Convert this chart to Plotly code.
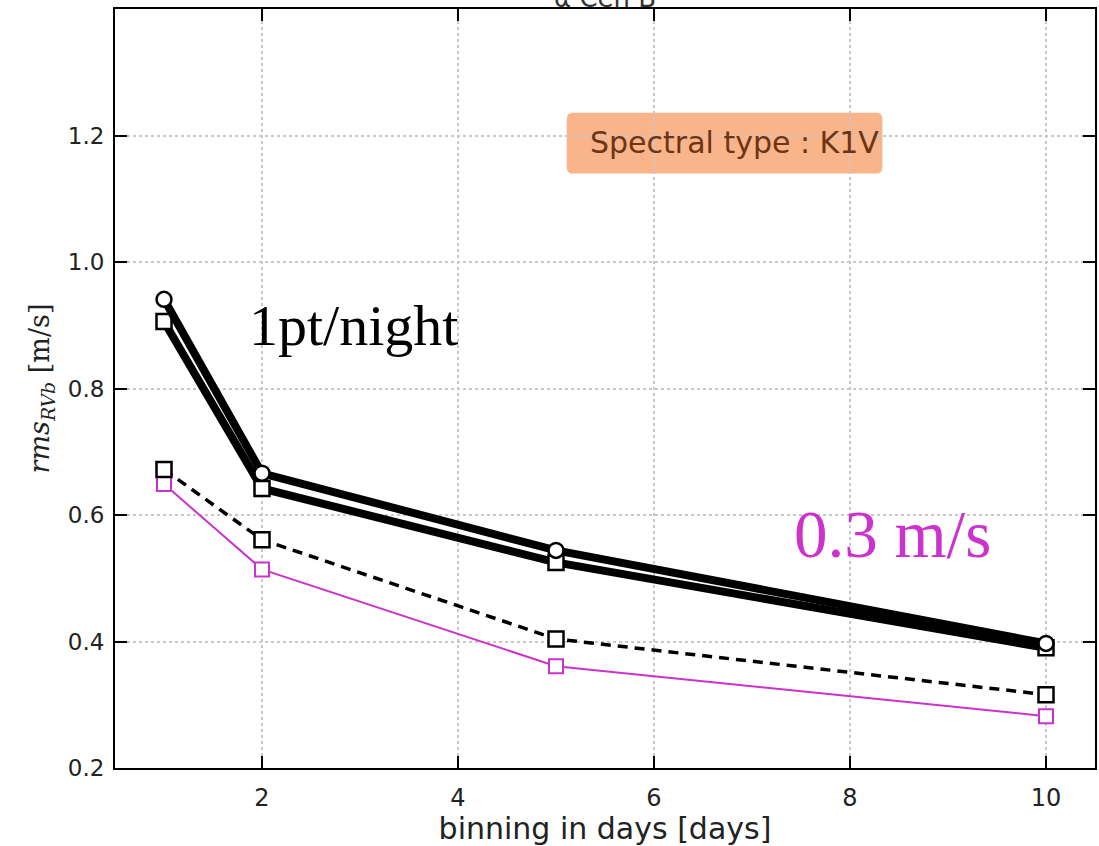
import plotly.graph_objects as go

bins = [1, 2, 5, 10]
rms_circle = [0.941, 0.666, 0.544, 0.397]
rms_square = [0.906, 0.642, 0.525, 0.390]
rms_dashed = [0.672, 0.561, 0.404, 0.316]
rms_magenta = [0.649, 0.514, 0.361, 0.282]

x_ticks = [2, 4, 6, 8, 10]
y_ticks = [0.2, 0.4, 0.6, 0.8, 1.0, 1.2]
y_tick_text = ["0.2", "0.4", "0.6", "0.8", "1.0", "1.2"]

MAG = "#cc33cc"

fig = go.Figure()

fig.add_trace(go.Scatter(
    x=bins, y=rms_magenta, mode="lines+markers",
    line=dict(color=MAG, width=2),
    marker=dict(symbol="square", size=14, color="white", line=dict(color=MAG, width=2)),
    showlegend=False))
fig.add_trace(go.Scatter(
    x=bins, y=rms_dashed, mode="lines+markers",
    line=dict(color="black", width=3.5, dash="10px,7px"),
    marker=dict(symbol="square", size=15, color="white", line=dict(color="black", width=2.5)),
    showlegend=False))
fig.add_trace(go.Scatter(
    x=bins, y=rms_square, mode="lines+markers",
    line=dict(color="black", width=8),
    marker=dict(symbol="square", size=15, color="white", line=dict(color="black", width=2.5)),
    showlegend=False))
fig.add_trace(go.Scatter(
    x=bins, y=rms_circle, mode="lines+markers",
    line=dict(color="black", width=8),
    marker=dict(symbol="circle", size=15, color="white", line=dict(color="black", width=2.5)),
    showlegend=False))

axis_common = dict(
    showline=True, linecolor="black", linewidth=2, mirror="ticks",
    ticks="inside", ticklen=12, tickwidth=2, tickcolor="black",
    showgrid=True, gridcolor="#c8c8c8", griddash="dot", gridwidth=1.5,
    zeroline=False,
)

fig.update_xaxes(range=[0.5, 10.5], tickvals=x_ticks,
                 tickfont=dict(family="DejaVu Sans", size=24, color="#222222"),
                 ticklabelstandoff=7,
                 title=dict(text="binning in days [days]", font=dict(family="DejaVu Sans", size=30, color="#222222"), standoff=4),
                 **axis_common)
fig.update_yaxes(range=[0.2, 1.4], tickvals=y_ticks, ticktext=y_tick_text,
                 tickfont=dict(family="DejaVu Sans", size=23, color="#222222"),
                 ticklabelstandoff=4,
                 title=dict(text="<i>rms</i><sub><i>RVb</i></sub> [m/s]", font=dict(family="DejaVu Serif", size=27, color="#222222"), standoff=10),
                 **axis_common)

# text annotations
fig.add_annotation(x=1.85, y=0.9, xref="x", yref="y", text="1pt/night", showarrow=False,
                   xanchor="left", yanchor="middle",
                   font=dict(family="Liberation Serif", size=58, color="black"))
fig.add_annotation(x=7.41, y=0.57, xref="x", yref="y", text="0.3 m/s", showarrow=False,
                   xanchor="left", yanchor="middle",
                   font=dict(family="Liberation Serif", size=67, color=MAG))
fig.add_annotation(x=6.82, y=1.189, xref="x", yref="y", text="Spectral type : K1V", showarrow=False,
                   xanchor="center", yanchor="middle",
                   font=dict(family="DejaVu Sans", size=30, color="#6e3514"))
fig.add_annotation(x=0.5, y=1.0, xref="paper", yref="paper", text="α Cen B", showarrow=False,
                   xanchor="center", yanchor="bottom", yshift=-6,
                   font=dict(family="DejaVu Sans", size=26, color="#333333"))

# rounded box for spectral type
fig.add_shape(type="path", xref="x", yref="y", layer="below",
              path="M 5.17 1.14 L 8.27 1.14 Q 8.33 1.14 8.33 1.15 L 8.33 1.226 Q 8.33 1.236 8.27 1.236 "
                   "L 5.17 1.236 Q 5.11 1.236 5.11 1.226 L 5.11 1.15 Q 5.11 1.14 5.17 1.14 Z",
              fillcolor="#f9b48a", line=dict(width=0))

fig.update_layout(
    width=1099, height=846,
    margin=dict(l=115, r=2, t=9, b=78),
    paper_bgcolor="white", plot_bgcolor="white",
)

fig.write_html("out.html")
